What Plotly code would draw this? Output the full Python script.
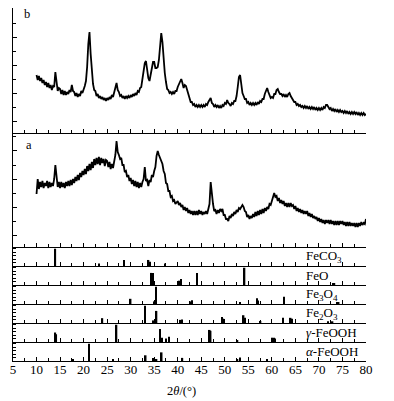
import plotly.graph_objects as go

# ---------------- data ----------------
scan_start = 10.0
scan_step = 0.25
# sample b (intensity, a.u.) sampled every 0.25 deg from 10 to 80
b_intensity = [
    58, 53, 57, 52, 55, 50, 53, 48, 51, 46, 50, 45, 48, 43, 47, 46, 61, 49, 42, 45,
    44, 39, 43, 38, 42, 38, 41, 39, 43, 41, 48, 42, 41, 37, 40, 36, 39, 37, 42, 40,
    43, 47, 52, 66, 89, 101, 79, 58, 49, 43, 42, 37, 39, 35, 37, 34, 36, 33, 35, 32,
    35, 33, 36, 34, 38, 36, 41, 44, 50, 43, 41, 37, 38, 35, 37, 34, 37, 35, 37, 35,
    38, 36, 39, 37, 40, 38, 42, 41, 45, 46, 53, 62, 70, 72, 61, 55, 52, 58, 66, 71,
    71, 65, 65, 66, 73, 85, 100, 91, 74, 60, 51, 44, 43, 40, 41, 39, 41, 39, 42, 42,
    46, 49, 53, 54, 50, 45, 48, 47, 43, 38, 36, 31, 31, 28, 29, 26, 28, 26, 28, 26,
    28, 26, 28, 26, 29, 28, 31, 33, 35, 30, 29, 26, 28, 26, 28, 25, 27, 25, 28, 27,
    30, 29, 33, 30, 29, 27, 30, 29, 32, 32, 37, 46, 56, 58, 48, 40, 37, 34, 34, 30,
    31, 28, 30, 28, 30, 28, 30, 28, 31, 29, 32, 31, 34, 34, 39, 43, 45, 41, 38, 35,
    36, 35, 39, 39, 43, 44, 41, 39, 39, 37, 39, 36, 38, 36, 39, 40, 37, 35, 34, 31,
    31, 28, 29, 27, 28, 26, 27, 25, 27, 25, 27, 24, 26, 24, 26, 24, 26, 23, 25, 23,
    25, 23, 25, 23, 26, 25, 28, 28, 26, 24, 25, 22, 24, 22, 24, 21, 23, 21, 23, 21,
    22, 20, 22, 20, 22, 19, 21, 19, 21, 19, 21, 19, 21, 18, 20, 18, 20, 18, 20, 18,
    19,
]
# sample a
a_intensity = [
    53, 68, 58, 65, 60, 66, 59, 64, 61, 66, 59, 65, 60, 64, 61, 68, 82, 67, 60, 65,
    59, 65, 60, 64, 59, 65, 61, 66, 61, 67, 62, 68, 64, 70, 66, 72, 67, 74, 70, 76,
    72, 78, 73, 81, 76, 83, 77, 85, 79, 88, 82, 89, 83, 90, 82, 89, 84, 88, 81, 87,
    86, 80, 85, 78, 83, 79, 86, 92, 106, 95, 92, 88, 89, 82, 82, 75, 76, 70, 72, 66,
    69, 63, 67, 61, 66, 60, 65, 59, 64, 60, 65, 68, 80, 66, 67, 61, 67, 65, 72, 70,
    76, 80, 91, 96, 92, 89, 84, 83, 76, 73, 64, 63, 56, 56, 50, 51, 46, 47, 43, 45,
    46, 42, 44, 40, 42, 37, 40, 36, 39, 34, 37, 33, 36, 32, 36, 32, 36, 32, 37, 33,
    36, 32, 35, 33, 36, 33, 37, 43, 65, 50, 43, 36, 37, 33, 37, 34, 38, 36, 38, 32,
    32, 28, 28, 26, 31, 29, 33, 31, 35, 33, 37, 35, 39, 38, 41, 42, 40, 36, 35, 30,
    32, 28, 31, 29, 33, 30, 35, 31, 36, 32, 37, 33, 38, 34, 39, 36, 40, 38, 43, 42,
    46, 49, 54, 50, 51, 46, 49, 44, 47, 43, 46, 41, 44, 40, 44, 40, 44, 41, 42, 38,
    41, 36, 39, 35, 38, 34, 37, 33, 36, 33, 36, 31, 34, 30, 33, 29, 31, 28, 30, 26,
    29, 25, 28, 24, 27, 23, 27, 24, 27, 23, 27, 23, 26, 22, 26, 22, 26, 22, 26, 23,
    26, 22, 25, 21, 25, 21, 25, 21, 24, 21, 24, 20, 24, 20, 24, 21, 25, 22, 24, 23,
    28,
]
two_theta = [round(scan_start + scan_step * i, 2) for i in range(len(b_intensity))]

# reference stick patterns (2theta, relative intensity %)
phase_names = ["FeCO<sub>3</sub>", "FeO", "Fe<sub>3</sub>O<sub>4</sub>",
               "Fe<sub>2</sub>O<sub>3</sub>", "<i>γ</i>-FeOOH", "<i>α</i>-FeOOH"]
feco3_pos = [14.0, 23.3, 28.6, 33.8, 34.1, 37.3]
feco3_int = [100, 15, 35, 35, 25, 15]
feo_pos = [34.4, 34.7, 40.4, 40.7, 44.1, 54.2, 73.0, 73.3]
feo_int = [70, 70, 25, 35, 70, 100, 10, 10]
fe3o4_pos = [30.0, 35.1, 35.4, 42.7, 43.0, 53.2, 56.8, 57.1, 62.6, 73.9, 74.2]
fe3o4_int = [30, 15, 100, 15, 22, 10, 33, 20, 42, 10, 8]
fe2o3_pos = [24.0, 33.0, 34.9, 35.5, 40.6, 40.9, 49.4, 49.7, 54.0, 54.3, 57.6,
             62.4, 64.0, 64.3, 71.9, 72.9]
fe2o3_int = [28, 100, 15, 70, 18, 20, 35, 25, 45, 30, 12, 30, 30, 25, 10, 10]
gfeooh_pos = [14.0, 14.2, 27.0, 36.2, 36.7, 37.5, 38.1, 46.8, 47.0, 52.7, 60.1, 60.4, 60.7]
gfeooh_int = [55, 45, 100, 75, 25, 20, 30, 70, 65, 8, 25, 25, 20]
afeooh_pos = [17.5, 17.8, 21.2, 26.2, 33.2, 34.7, 35.5, 36.6, 41.0, 52.7, 53.2, 59.0]
afeooh_int = [10, 8, 100, 8, 33, 18, 10, 50, 18, 10, 20, 12]
stick_pos = [feco3_pos, feo_pos, fe3o4_pos, fe2o3_pos, gfeooh_pos, afeooh_pos]
stick_int = [feco3_int, feo_int, fe3o4_int, fe2o3_int, gfeooh_int, afeooh_int]

x_ticks = list(range(5, 81, 5))

# ---------------- figure ----------------
FONT = "Liberation Serif, Times New Roman, serif"
LW = 1.2
domains = [
    [0.6459, 1.0], [0.3229, 0.6459],
    [0.2691, 0.3229], [0.2153, 0.2691], [0.1615, 0.2153],
    [0.1076, 0.1615], [0.0538, 0.1076], [0.0, 0.0538],
]

fig = go.Figure()
fig.add_trace(go.Scatter(x=two_theta, y=b_intensity, mode="lines",
                         line=dict(color="black", width=1.8), xaxis="x", yaxis="y",
                         showlegend=False, hoverinfo="skip"))
fig.add_trace(go.Scatter(x=two_theta, y=a_intensity, mode="lines",
                         line=dict(color="black", width=1.8), xaxis="x2", yaxis="y2",
                         showlegend=False, hoverinfo="skip"))
for i, (pos, inten) in enumerate(zip(stick_pos, stick_int)):
    k = i + 3
    fig.add_trace(go.Bar(x=pos, y=inten, width=0.32, marker=dict(color="black", line=dict(width=0)),
                         xaxis=f"x{k}", yaxis=f"y{k}", showlegend=False, hoverinfo="skip"))

# the page body adds an 8 px offset, so the figure is drawn 8 px smaller
layout = dict(
    width=386, height=393,
    margin=dict(l=5, r=28, t=0, b=40),
    paper_bgcolor="white", plot_bgcolor="white",
    font=dict(family=FONT, size=12, color="black"),
    barmode="overlay", showlegend=False,
)
for k in range(1, 9):
    sx = "" if k == 1 else str(k)
    layout["xaxis" + sx] = dict(
        domain=[0, 1], anchor="y" + sx, range=[5, 80],
        matches=None if k == 1 else "x",
        showline=True, linecolor="black", linewidth=LW, mirror=False,
        ticks="inside", tickvals=x_ticks, ticklen=4, tickwidth=1, tickcolor="black",
        minor=dict(dtick=2.5, tick0=5, ticks="inside", ticklen=2.5, tickwidth=1, tickcolor="black"),
        showticklabels=(k == 8), showgrid=False, zeroline=False,
        ticklabelstandoff=-4,
        tickfont=dict(family=FONT, size=13, color="black"),
    )
    if k <= 2:
        rng = [0, 125] if k == 1 else [0, 114]
        ydict = dict(range=rng, tick0=12, dtick=28, ticklen=4,
                     minor=dict(tick0=26, dtick=28, ticks="inside", ticklen=2.5,
                                tickwidth=1, tickcolor="black"))
    else:
        ydict = dict(range=[0, 110], tick0=0, dtick=20, ticklen=3)
    layout["yaxis" + sx] = dict(
        domain=domains[k - 1], anchor="x" + sx,
        showline=True, linecolor="black", linewidth=LW,
        ticks="inside", tickwidth=1, tickcolor="black",
        showticklabels=False, showgrid=False, zeroline=False, fixedrange=True,
        **ydict,
    )

annotations = [
    dict(text="b", x=0.041, y=0.9816, xref="paper", yref="paper", showarrow=False,
         xanchor="center", yanchor="middle", font=dict(family=FONT, size=12.5)),
    dict(text="a", x=0.0467, y=0.6105, xref="paper", yref="paper", showarrow=False,
         xanchor="center", yanchor="middle", font=dict(family=FONT, size=12.5)),
    dict(text="2<i>θ</i>/(°)", x=0.476, y=-0.085, xref="paper", yref="paper",
         showarrow=False, xanchor="center", yanchor="middle", font=dict(family=FONT, size=12.5)),
]
for i, name in enumerate(phase_names):
    k = i + 3
    annotations.append(dict(text=name, x=66.8, y=0.5, xref=f"x{k}", yref=f"y{k} domain",
                            showarrow=False, xanchor="left", yanchor="middle",
                            font=dict(family=FONT, size=13)))
layout["annotations"] = annotations
fig.update_layout(**layout)

fig.write_html("out.html")
